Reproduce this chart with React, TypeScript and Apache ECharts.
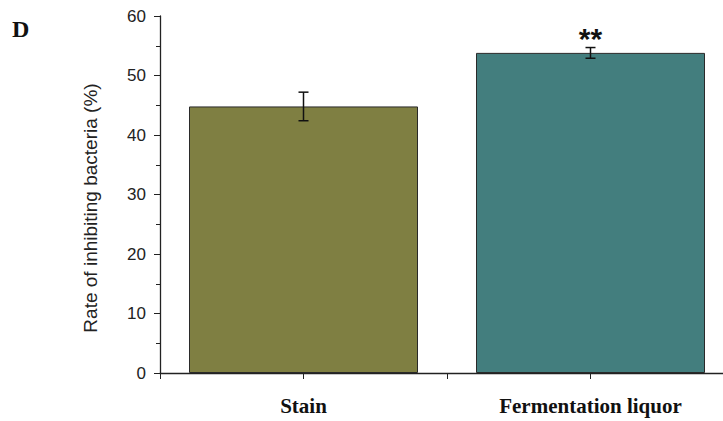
import React, { useEffect, useRef } from "react";
import * as echarts from "echarts";

const categories = ["Stain", "Fermentation liquor"];
const means = [44.8, 53.8];
const errors = [2.4, 0.9];
const significance = ["", "**"];
const barColors = ["#7F7F42", "#437E7E"];
const yTicks = { min: 0, max: 60, interval: 10 };
const yTitle = "Rate of inhibiting bacteria (%)";

export default function App() {
  const ref = useRef<HTMLDivElement>(null);
  useEffect(() => {
    document.body.style.margin = "0";
    const chart = echarts.init(ref.current!, null, { renderer: "svg" });
    const axisColor = "#222";
    chart.setOption({
      animation: false,
      backgroundColor: "#fff",
      grid: {
        left: 160,
        width: 574,
        top: 16,
        height: 357,
        containLabel: false,
        outerBoundsMode: "none",
      },
      graphic: [
        {
          type: "text",
          left: 12,
          top: 17,
          style: { text: "D", font: "bold 24px 'Liberation Serif'", fill: "#111" },
        },
        {
          type: "text",
          x: 90,
          y: 208,
          rotation: Math.PI / 2,
          style: {
            text: yTitle,
            font: "19px 'Liberation Sans'",
            fill: "#222",
            align: "center",
            verticalAlign: "middle",
          },
        },
      ],
      xAxis: [
        {
          type: "category",
          data: categories,
          position: "bottom",
          axisLine: { lineStyle: { color: axisColor, width: 1.3 } },
          axisTick: { show: true, length: 6, lineStyle: { color: axisColor } },
          axisLabel: {
            margin: 22,
            color: "#111",
            fontFamily: "Liberation Serif",
            fontWeight: "bold",
            fontSize: 21,
          },
        },
        {
          type: "category",
          data: categories,
          position: "bottom",
          axisLine: { show: false },
          axisTick: { show: true, alignWithLabel: true, length: 6, lineStyle: { color: axisColor } },
          axisLabel: { show: false },
        },
      ],
      yAxis: {
        type: "value",
        min: yTicks.min,
        max: yTicks.max,
        interval: yTicks.interval,
        axisLine: { show: true, lineStyle: { color: axisColor, width: 1.3 } },
        axisTick: { show: true, length: 6, lineStyle: { color: axisColor } },
        minorTick: { show: true, splitNumber: 2, length: 4, lineStyle: { color: axisColor } },
        splitLine: { show: false },
        axisLabel: { margin: 14, color: "#222", fontFamily: "Liberation Sans", fontSize: 17 },
      },
      series: [
        {
          type: "bar",
          xAxisIndex: 0,
          barWidth: 229,
          data: means.map((v, i) => ({
            value: v,
            itemStyle: { color: barColors[i], borderColor: "#2a2a2a", borderWidth: 1 },
          })),
        },
        {
          type: "custom",
          xAxisIndex: 0,
          data: means.map((v, i) => [i, v, errors[i]]),
          z: 10,
          renderItem: (params: any, api: any) => {
            const i = api.value(0);
            const m = api.value(1);
            const e = api.value(2);
            const top = api.coord([i, m + e]);
            const bot = api.coord([i, m - e]);
            const cap = 5;
            const st = { stroke: "#111", lineWidth: 1.5 };
            const children: any[] = [
              { type: "line", shape: { x1: top[0], y1: top[1], x2: bot[0], y2: bot[1] }, style: st },
              { type: "line", shape: { x1: top[0] - cap, y1: top[1], x2: top[0] + cap, y2: top[1] }, style: st },
              { type: "line", shape: { x1: bot[0] - cap, y1: bot[1], x2: bot[0] + cap, y2: bot[1] }, style: st },
            ];
            const sig = significance[params.dataIndex];
            if (sig) {
              children.push({
                type: "text",
                x: top[0],
                y: top[1] - 9,
                style: {
                  text: sig,
                  font: "bold 30px 'Liberation Sans'",
                  fill: "#111",
                  align: "center",
                  verticalAlign: "middle",
                },
              });
            }
            return { type: "group", children };
          },
        },
      ],
    });
    return () => chart.dispose();
  }, []);
  return <div ref={ref} style={{ width: 723, height: 421 }} />;
}
